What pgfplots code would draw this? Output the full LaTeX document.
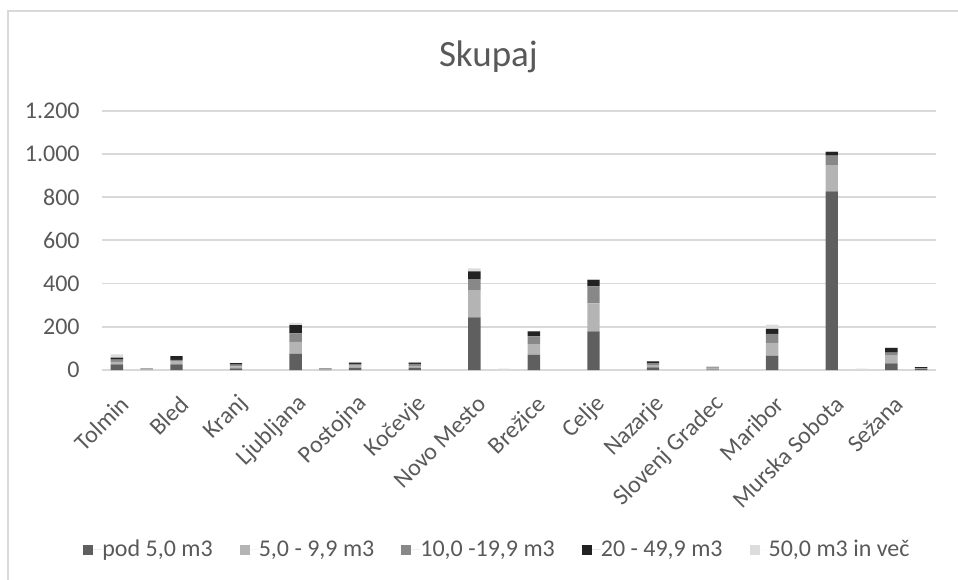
\documentclass[border=0pt]{standalone}
\usepackage{fontspec}
\setmainfont{Carlito}
\usepackage{pgfplots}
\usepackage{pgfplotstable}
\pgfplotsset{compat=1.18}

\definecolor{sA}{HTML}{5F5F5F}
\definecolor{sB}{HTML}{B4B4B4}
\definecolor{sC}{HTML}{888888}
\definecolor{sD}{HTML}{222222}
\definecolor{sE}{HTML}{DCDCDC}
\definecolor{txt}{HTML}{595959}
\definecolor{gridc}{HTML}{D9D9D9}

% slots 0..27, labels on even slots only
\pgfplotstableread{
x  d   l   m   b   v
0  26  12  10  9   15
1  0   4   3   0   2
2  26  15  6   17  1
3  0   0   0   0   0
4  8   9   8   7   1
5  0   0   0   0   0
6  76  54  40  38  10
7  1   2   3   1   1
8  10  10  8   6   4
9  0   0   0   0   0
10 10  9   9   6   4
11 0   0   0   0   0
12 243 127 51  35  14
13 0   0   0   0   6
14 71  49  36  23  2
15 0   0   0   0   0
16 179 129 79  30  3
17 0   0   0   0   0
18 12  11  9   8   1
19 0   0   0   0   0
20 2   4   5   1   6
21 0   0   0   0   0
22 66  59  42  23  20
23 0   0   0   0   0
24 827 119 46  18  3
25 0   0   0   0   6
26 31  35  15  21  2
27 6   2   1   4   0
}\skupaj

\begin{document}
\begin{tikzpicture}
\begin{axis}[
    at={(51pt,104.5pt)}, anchor=south west,
    scale only axis, width=417pt, height=129.65pt,
    ybar stacked, bar width=6.2pt,
    xmin=-0.5, xmax=27.5, ymin=0, ymax=1200,
    ytick={0,200,...,1200},
    xtick={0,2,...,26},
    xticklabels={Tolmin,Bled,Kranj,Ljubljana,Postojna,Kočevje,Novo Mesto,Brežice,Celje,Nazarje,Slovenj Gradec,Maribor,Murska Sobota,Sežana},
    axis line style={draw=none},
    major tick length=0pt,
    ymajorgrids, grid style={gridc, line width=0.9pt},
    scaled y ticks=false,
    /pgf/number format/.cd, 1000 sep={.}, assume math mode=true, /pgfplots/.cd,
    yticklabel style={font=\fontsize{12}{14}\selectfont, text=txt, inner sep=0pt, xshift=-11pt},
    xticklabel style={font=\fontsize{12}{14}\selectfont, text=txt, inner sep=0pt, xshift=4pt, yshift=-15pt, rotate=45, anchor=east},
    legend columns=5,
    legend style={at={(-0.0228,-0.694)}, anchor=west, draw=none, fill=none, inner sep=0pt,
        font=\fontsize{12}{14}\selectfont, text=txt,
        nodes={inner sep=0pt},
        /tikz/every even column/.append style={column sep=13.5pt}},
    legend image code/.code={\fill[#1] (0pt,-2.5pt) rectangle (5pt,2.5pt); \path (0pt,0pt) -- (9.5pt,0pt);},
]
\addplot[fill=sA, draw=none] table[x=x, y=d] {\skupaj};
\addplot[fill=sB, draw=none] table[x=x, y=l] {\skupaj};
\addplot[fill=sC, draw=none] table[x=x, y=m] {\skupaj};
\addplot[fill=sD, draw=none] table[x=x, y=b] {\skupaj};
\addplot[fill=sE, draw=none] table[x=x, y=v] {\skupaj};
\legend{{pod 5,0 m3}, {5,0 - 9,9 m3}, {10,0 -19,9 m3}, {20 - 49,9 m3}, {50,0 m3 in več}}
\end{axis}
\node[anchor=base, font=\fontsize{18.5}{22}\selectfont, text=txt] at (244.2pt,256.15pt) {Skupaj};
\draw[gridc, line width=1pt] (4pt,-5pt) -- (4pt,284pt) -- (485pt,284pt);
\pgfresetboundingbox
\path (0,0) rectangle (479pt,289.5pt);
\end{tikzpicture}
\end{document}
